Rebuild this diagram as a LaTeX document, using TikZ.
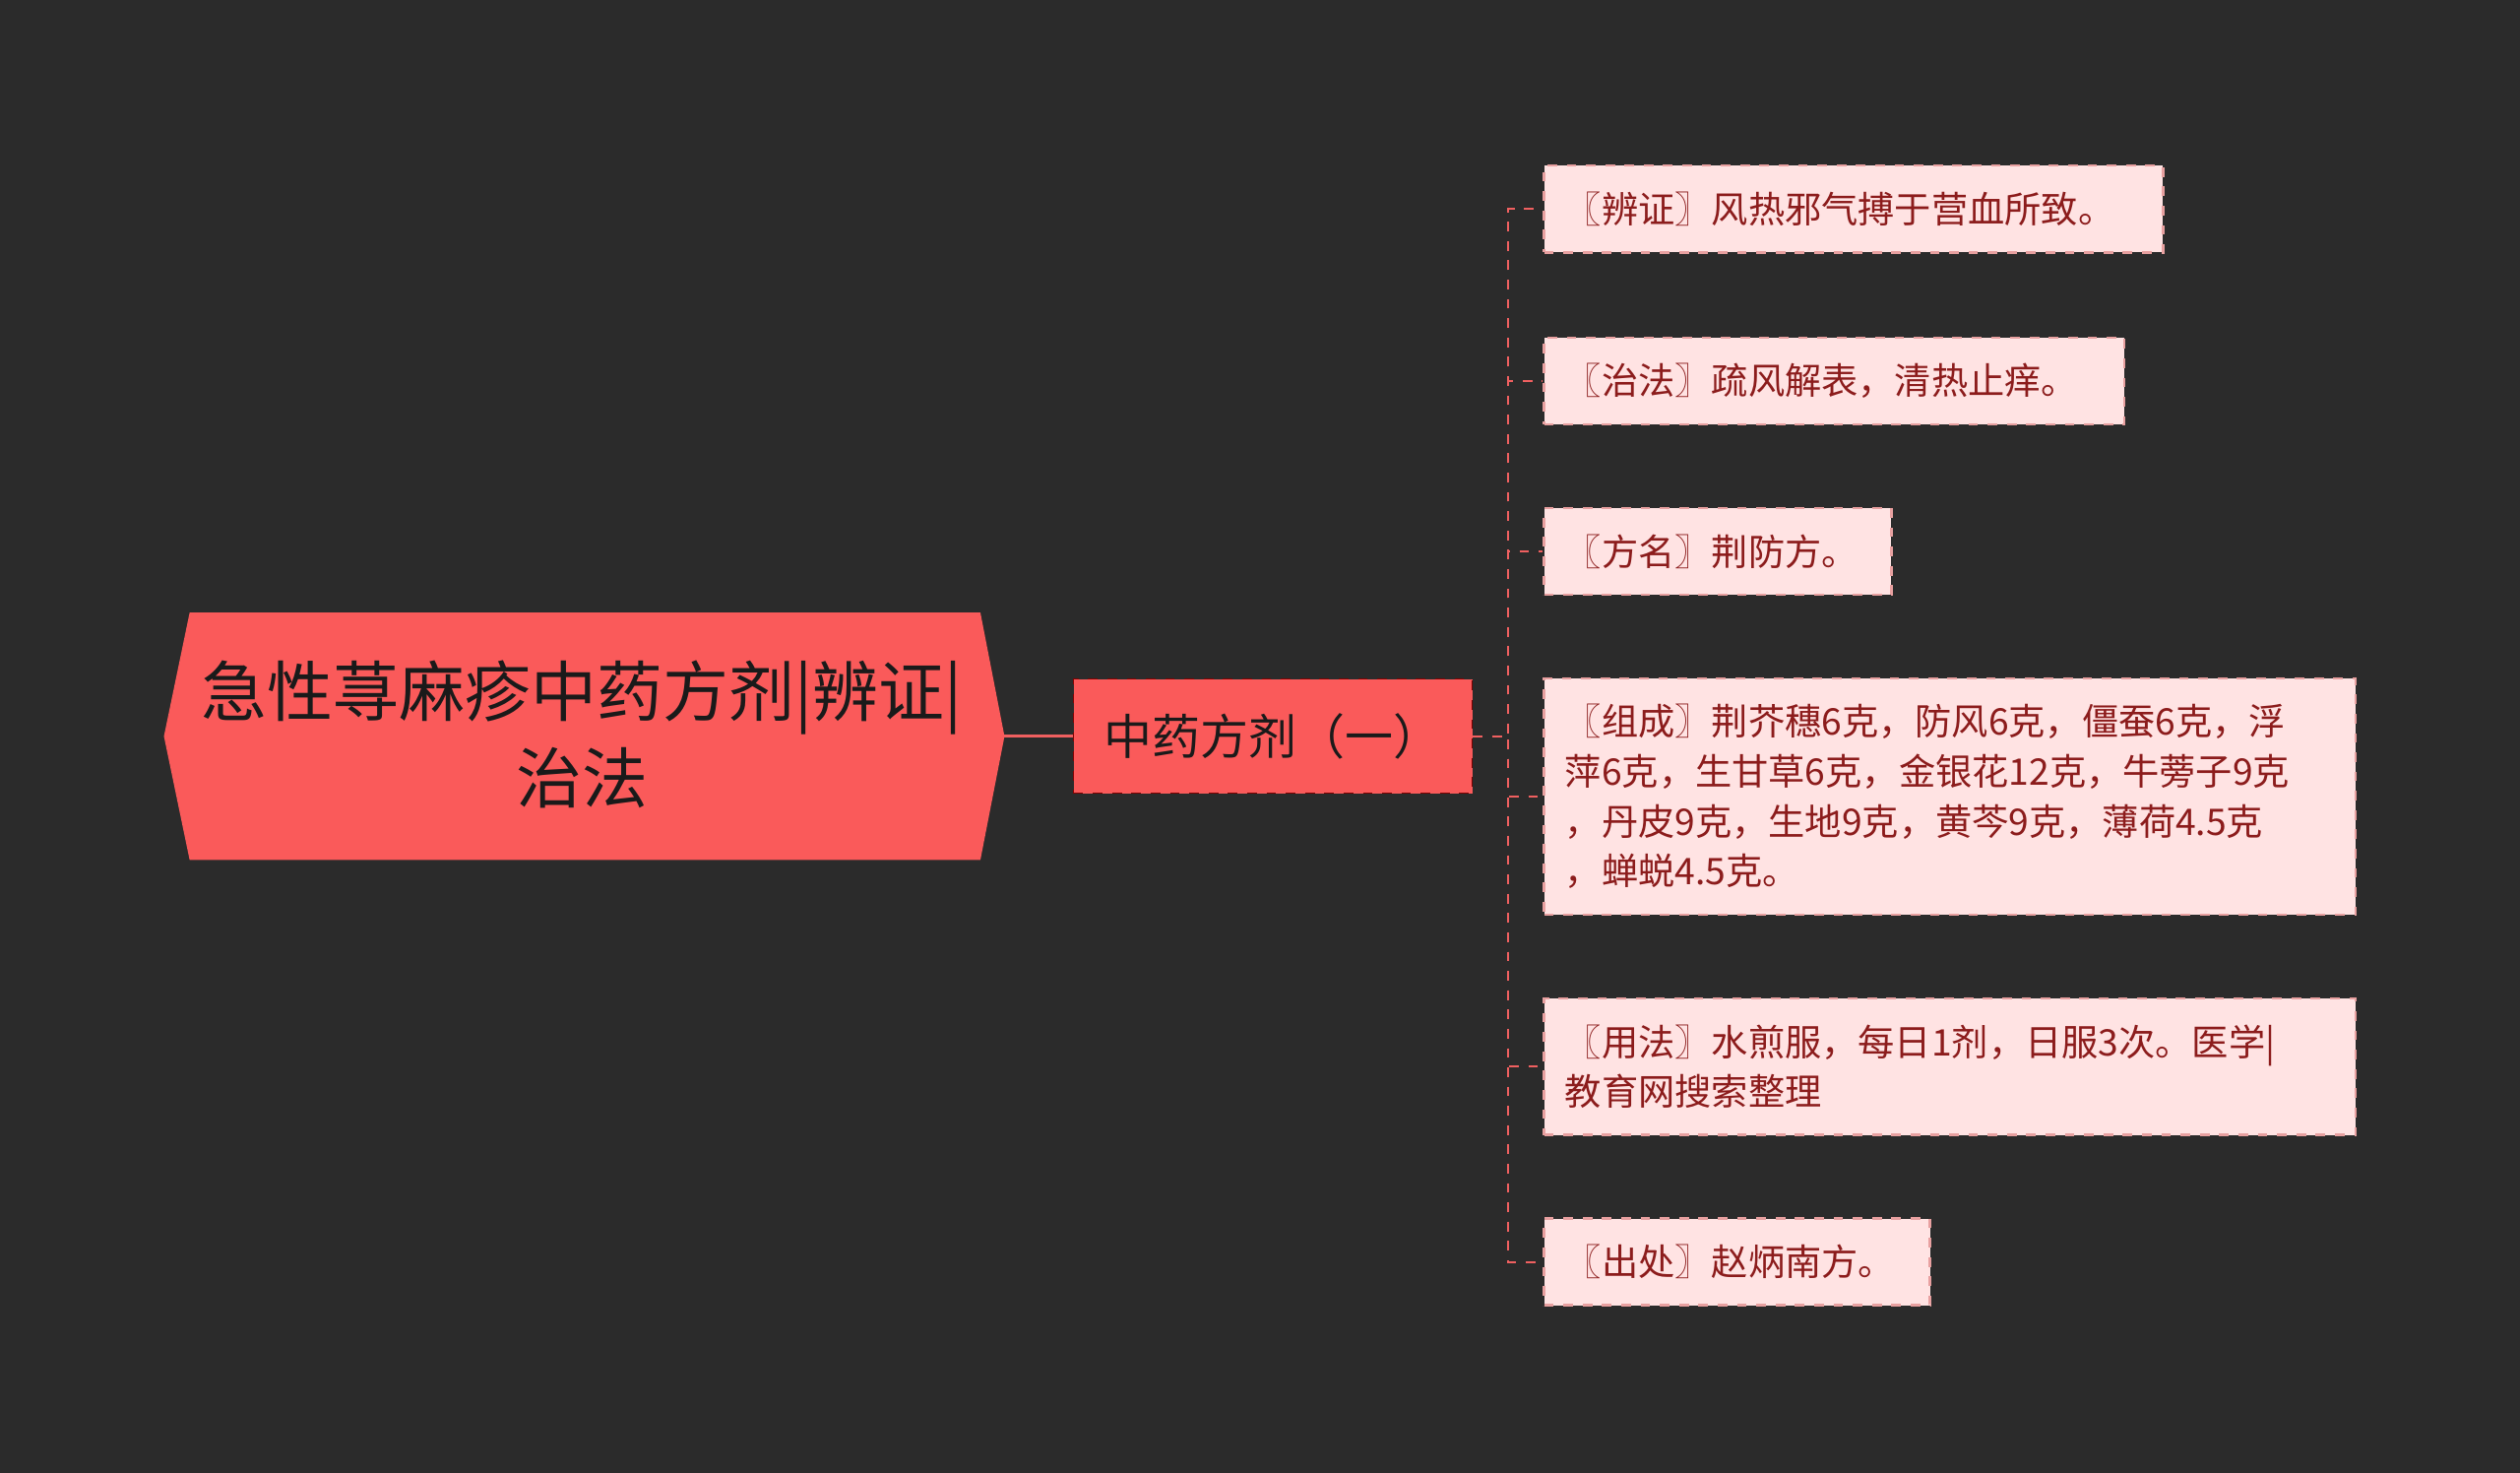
\documentclass[tikz,border=0pt]{standalone}
\usepackage{fontspec}
\setmainfont{Noto Sans CJK SC}
\begin{document}
\begin{tikzpicture}[x=0.5pt,y=-0.5pt,
 leaf/.style={draw=leafb,fill=leaff,dashed,line width=0.8pt,anchor=west,inner xsep=6.5pt,inner ysep=0pt,align=left,text=leaft,font=\fontsize{11.4}{15.5}\selectfont},
 conn/.style={draw=linec,dashed,line width=0.6pt}]
\definecolor{bg}{HTML}{2B2B2B}
\definecolor{red1}{HTML}{FA5A5A}
\definecolor{leaff}{HTML}{FFE3E3}
\definecolor{leafb}{HTML}{E8A0A0}
\definecolor{leaft}{HTML}{8C1C1C}
\definecolor{linec}{HTML}{F06060}
\fill[bg] (0,0) rectangle (1568,916);
\useasboundingbox (0,0) rectangle (1568,916);
\fill[red1] (102,458) -- (118,381) -- (610,381) -- (625,458) -- (610,535) -- (118,535) -- cycle;
\node[text=bg!60!black,align=center,font=\fontsize{20.5}{27}\selectfont] (root) at (362,457) {急性荨麻疹中药方剂|辨证|\\治法};
\coordinate (rootE) at (625,458);
\node[draw=red!50!black,dashed,fill=red1,minimum width=124pt,minimum height=35.5pt,text=bg!60!black,font=\fontsize{15}{18}\selectfont] (mid) at (792,458) {中药方剂（一）};
\draw[linec,line width=1pt] (rootE) -- (mid.west);
\node[leaf,minimum height=27pt,text width=179.5pt] (l1) at (960,130) {〖辨证〗风热邪气搏于营血所致。};
\node[leaf,minimum height=27pt,text width=167.5pt] (l2) at (960,237) {〖治法〗疏风解表，清热止痒。};
\node[leaf,minimum height=27pt,text width=95pt] (l3) at (960,343) {〖方名〗荆防方。};
\node[leaf,minimum height=73.5pt,text width=239.5pt] (l4) at (960,495.5) {〖组成〗荆芥穗6克，防风6克，僵蚕6克，浮\\萍6克，生甘草6克，金银花12克，牛蒡子9克\\，丹皮9克，生地9克，黄芩9克，薄荷4.5克\\，蝉蜕4.5克。};
\node[leaf,minimum height=42.5pt,text width=239.5pt] (l5) at (960,663.5) {〖用法〗水煎服，每日1剂，日服3次。医学|\\教育网搜索整理};
\node[leaf,minimum height=27pt,text width=107pt] (l6) at (960,785) {〖出处〗赵炳南方。};
\foreach \l in {l1,l2,l3,l4,l5,l6}
  \draw[conn] (mid.east) -- ++(22,0) |- (\l.west);
\end{tikzpicture}
\end{document}
